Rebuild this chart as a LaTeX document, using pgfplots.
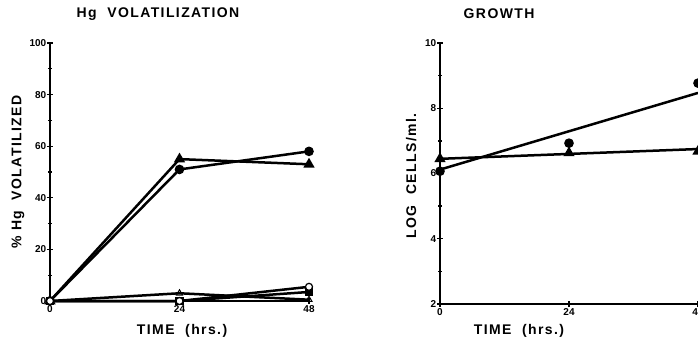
\documentclass[border=0pt]{standalone}
\usepackage{fontspec}
\setmainfont{Liberation Sans}
\newfontfamily\lab[LetterSpace=10]{Liberation Sans}
\usepackage{pgfplots}
\pgfplotsset{compat=1.18}
\begin{document}
\begin{tikzpicture}
\pgfplotsset{
  common/.style={
    scale only axis,
    axis lines=left,
    axis line style={-, line width=1.7pt},
    tick style={line width=1.3pt, black},
    major tick length=6pt, minor tick length=4pt,
    xmin=0, xmax=48, xtick={0,24,48},
    minor y tick num=1,
    ticklabel style={font=\bfseries\fontsize{10}{12}\selectfont},
    yticklabel style={inner xsep=0.5pt},
    xticklabel style={inner ysep=1pt},
    /pgf/number format/assume math mode=true,
    label style={font=\lab\bfseries\fontsize{14}{16}\selectfont},
    every axis plot/.append style={line width=2.5pt, black},
    clip=false,
  }
}
\begin{axis}[common, name=L, at={(0pt,0pt)}, anchor=south west,
  width=259pt, height=258pt, ymin=0, ymax=100, ytick={0,20,...,100},
  xlabel={TIME\ \ (hrs.)}, ylabel={\%\ Hg\ \ VOLATILIZED},
  xlabel style={at={(axis description cs:0.51,-0.116)}, anchor=center},
  ylabel style={at={(axis description cs:-0.124,0.5)}, anchor=center},
  title={Hg\ \ VOLATILIZATION}, title style={font=\lab\bfseries\fontsize{14}{16}\selectfont, at={(axis description cs:0.417,1.089)}, anchor=center}]
\addplot[mark=*, mark size=3.5pt] coordinates {(0,0) (24,51) (48,58)};
\addplot[mark=triangle*, mark size=4pt] coordinates {(0,0) (24,55) (48,53)};
\addplot[mark=triangle, mark size=3.5pt, mark options={fill=white, line width=1pt}] coordinates {(0,0) (24,3) (48,0.5)};
\addplot[mark=square*, mark size=3pt] coordinates {(0,0) (24,0) (48,3.5)};
\addplot[mark=*, mark size=3.5pt, mark options={fill=white, line width=1.2pt}] coordinates {(0,0) (24,0) (48,5.5)};
\end{axis}
\begin{axis}[common, name=R, at={(390pt,-3pt)}, anchor=south west,
  width=258pt, height=261pt, ymin=2, ymax=10, ytick={2,4,...,10},
  xlabel={TIME\ \ (hrs.)}, ylabel={LOG\ \ CELLS/ml.},
  xlabel style={at={(axis description cs:0.306,-0.103)}, anchor=center},
  ylabel style={at={(axis description cs:-0.112,0.49)}, anchor=center},
  title={GROWTH}, title style={font=\lab\bfseries\fontsize{14}{16}\selectfont, at={(axis description cs:0.229,1.088)}, anchor=center}]
\addplot[no marks] coordinates {(0,6.12) (48,8.47)};
\addplot[no marks] coordinates {(0,6.45) (48,6.75)};
\addplot[only marks, mark=*, mark size=3.5pt] coordinates {(0,6.07) (24,6.93) (48,8.77)};
\addplot[only marks, mark=triangle*, mark size=4pt] coordinates {(0,6.45) (24,6.63) (48,6.68)};
\end{axis}
\pgfresetboundingbox
\path[use as bounding box] (-50pt,-40pt) rectangle (648pt,301pt);
\end{tikzpicture}
\end{document}
